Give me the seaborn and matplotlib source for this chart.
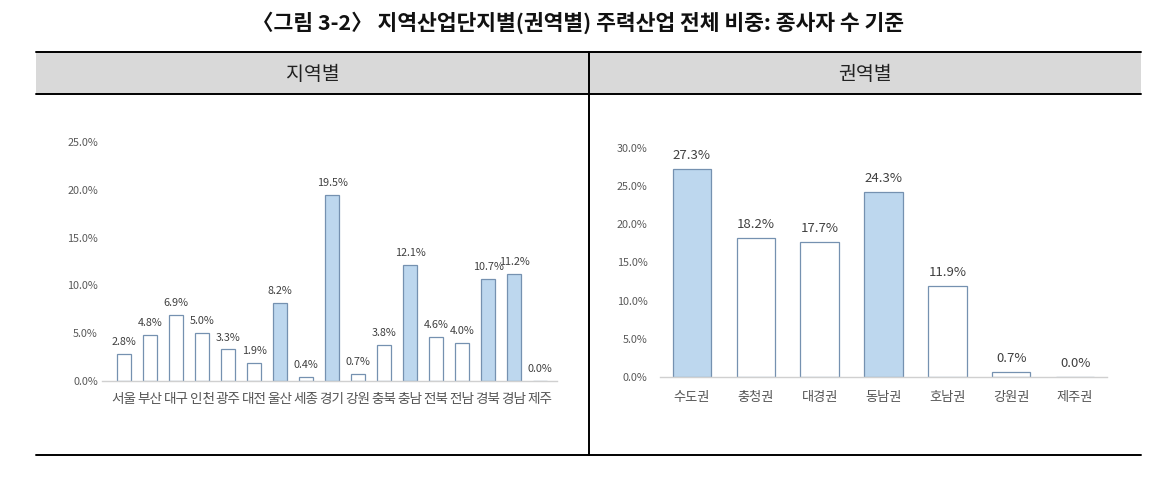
import matplotlib
matplotlib.use("Agg")
import matplotlib.pyplot as plt
from matplotlib.patches import Rectangle
from matplotlib.lines import Line2D
import seaborn as sns
import pandas as pd

sns.set_theme(style="white")
plt.rcParams['font.family'] = ['Noto Sans CJK KR', 'DejaVu Sans']

title = "〈그림 3-2〉 지역산업단지별(권역별) 주력산업 전체 비중: 종사자 수 기준"
left_header = "지역별"
right_header = "권역별"

regions = ["서울", "부산", "대구", "인천", "광주", "대전", "울산", "세종", "경기",
           "강원", "충북", "충남", "전북", "전남", "경북", "경남", "제주"]
region_values = [2.8, 4.8, 6.9, 5.0, 3.3, 1.9, 8.2, 0.4, 19.5,
                 0.7, 3.8, 12.1, 4.6, 4.0, 10.7, 11.2, 0.0]
region_main = ["N", "N", "N", "N", "N", "N", "Y", "N", "Y",
               "N", "N", "Y", "N", "N", "Y", "Y", "Y"]

zones = ["수도권", "충청권", "대경권", "동남권", "호남권", "강원권", "제주권"]
zone_values = [27.3, 18.2, 17.7, 24.3, 11.9, 0.7, 0.0]
zone_main = ["Y", "N", "N", "Y", "N", "N", "N"]

left_yticks = [0, 5, 10, 15, 20, 25]
right_yticks = [0, 5, 10, 15, 20, 25, 30]

FILL = "#bdd7ee"
EDGE = "#7591b0"
palette = {"Y": FILL, "N": "white"}

W, H = 1157, 480
fig = plt.figure(figsize=(W / 100, H / 100), dpi=100)

def fx(px):
    return px / W

def fy(py):
    return 1 - py / H

# title
fig.text(0.5, fy(23), title, ha="center", va="center", fontsize=15.5,
         fontweight="bold", color="#111111")

# table frame
x0, x1, xm = 36, 1141, 589
ytop, yhead, ybot = 52, 94, 455
fig.add_artist(Rectangle((fx(x0), fy(yhead)), fx(x1) - fx(x0), fy(ytop) - fy(yhead),
                         transform=fig.transFigure, facecolor="#d9d9d9",
                         edgecolor="none", zorder=0))
for (xa, ya, xb, yb) in [(x0, ytop, x1, ytop), (x0, yhead, x1, yhead),
                         (x0, ybot, x1, ybot), (xm, ytop, xm, ybot)]:
    fig.add_artist(Line2D([fx(xa), fx(xb)], [fy(ya), fy(yb)],
                          transform=fig.transFigure, color="black", lw=1.4))
fig.text(fx((x0 + xm) / 2), fy(74), left_header, ha="center", va="center",
         fontsize=14, color="#222222")
fig.text(fx((xm + x1) / 2), fy(74), right_header, ha="center", va="center",
         fontsize=14, color="#222222")

# left axes
axL = fig.add_axes([fx(102), fy(381), fx(557) - fx(102), fy(142) - fy(381)])
dfL = pd.DataFrame({"region": regions, "value": region_values, "main": region_main})
sns.barplot(data=dfL, x="region", y="value", hue="main", palette=palette,
            saturation=1, dodge=False, legend=False, width=0.565, edgecolor=EDGE,
            linewidth=0.9, ax=axL, order=regions)
axL.set_xlim(-0.846, 16.65)
axL.set_ylim(0, 25)
axL.set_yticks(left_yticks)
axL.set_yticklabels([f"{v:.1f}%" for v in left_yticks], fontsize=7.8, color="#595959")
axL.tick_params(axis="x", labelsize=9.8, colors="#555555", pad=8, length=0)
axL.tick_params(axis="y", length=0, pad=3)
for c in axL.containers:
    axL.bar_label(c, labels=[f"{v:.1f}%" for v in c.datavalues], fontsize=7.8,
                  color="#404040", padding=5)
axL.set_xlabel("")
axL.set_ylabel("")

# right axes
axR = fig.add_axes([fx(660), fy(377), fx(1107) - fx(660), fy(148) - fy(377)])
dfR = pd.DataFrame({"zone": zones, "value": zone_values, "main": zone_main})
sns.barplot(data=dfR, x="zone", y="value", hue="main", palette=palette,
            saturation=1, dodge=False, legend=False, width=0.6, edgecolor=EDGE,
            linewidth=0.9, ax=axR, order=zones)
axR.set_ylim(0, 30)
axR.set_yticks(right_yticks)
axR.set_yticklabels([f"{v:.1f}%" for v in right_yticks], fontsize=7.8, color="#595959")
axR.tick_params(axis="x", labelsize=9.5, colors="#555555", pad=10, length=0)
axR.tick_params(axis="y", length=0, pad=9)
for c in axR.containers:
    axR.bar_label(c, labels=[f"{v:.1f}%" for v in c.datavalues], fontsize=9.5,
                  color="#404040", padding=5)
axR.set_xlabel("")
axR.set_ylabel("")

for ax in (axL, axR):
    ax.set_facecolor("none")
    for s in ("top", "right", "left"):
        ax.spines[s].set_visible(False)
    ax.spines["bottom"].set_color("#d0d0d0")
    ax.spines["bottom"].set_linewidth(1)
    ax.grid(False)

fig.savefig("out.png", dpi=100)
